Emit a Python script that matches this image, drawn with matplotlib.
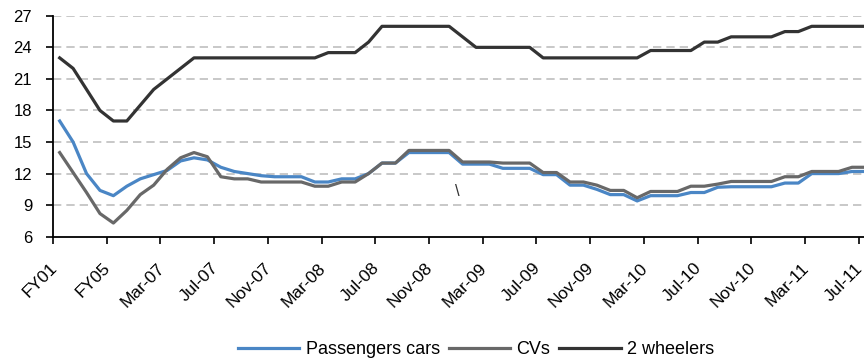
import numpy as np
import matplotlib
matplotlib.use("Agg")
import matplotlib.pyplot as plt

plt.rcParams['font.family'] = ['Liberation Sans', 'DejaVu Sans']

# labels shown on every 4th monthly category
tick_labels = ['FY01', 'FY05', 'Mar-07', 'Jul-07', 'Nov-07', 'Mar-08', 'Jul-08', 'Nov-08',
               'Mar-09', 'Jul-09', 'Nov-09', 'Mar-10', 'Jul-10', 'Nov-10', 'Mar-11', 'Jul-11']

passenger_cars = [17.0, 15.0, 12.0, 10.4, 9.9, 10.8, 11.5, 11.9, 12.3, 13.2,
                  13.5, 13.3, 12.6, 12.2, 12.0, 11.8, 11.7, 11.7, 11.7, 11.2,
                  11.2, 11.5, 11.5, 12.0, 13.0, 13.0, 14.0, 14.0, 14.0, 14.0,
                  12.9, 12.9, 12.9, 12.5, 12.5, 12.5, 11.9, 11.9, 10.9, 10.9,
                  10.5, 10.0, 10.0, 9.4, 9.9, 9.9, 9.9, 10.2, 10.2, 10.7,
                  10.75, 10.75, 10.75, 10.75, 11.1, 11.1, 12.0, 12.0, 12.0, 12.2,
                  12.2]

cvs = [14.0, 12.1, 10.2, 8.2, 7.3, 8.5, 10.0, 10.9, 12.4, 13.5,
       14.0, 13.6, 11.7, 11.5, 11.5, 11.2, 11.2, 11.2, 11.2, 10.8,
       10.8, 11.2, 11.2, 12.0, 13.0, 13.0, 14.2, 14.2, 14.2, 14.2,
       13.1, 13.1, 13.1, 13.0, 13.0, 13.0, 12.1, 12.1, 11.2, 11.2,
       10.9, 10.4, 10.4, 9.7, 10.3, 10.3, 10.3, 10.8, 10.8, 11.0,
       11.25, 11.25, 11.25, 11.25, 11.7, 11.7, 12.2, 12.2, 12.2, 12.6,
       12.6]

two_wheelers = [23, 22, 20, 18, 17, 17, 18.5, 20, 21, 22,
                23, 23, 23, 23, 23, 23, 23, 23, 23, 23,
                23.5, 23.5, 23.5, 24.5, 26, 26, 26, 26, 26, 26,
                25, 24, 24, 24, 24, 24, 23, 23, 23, 23,
                23, 23, 23, 23, 23.7, 23.7, 23.7, 23.7, 24.5, 24.5,
                25, 25, 25, 25, 25.5, 25.5, 26, 26, 26, 26,
                26]

x = np.arange(len(passenger_cars))

fig = plt.figure(figsize=(8.64, 3.6), dpi=100)
ax = fig.add_axes([0.0613, 0.3425, 0.9404, 0.6136])

lw = 2.3
ax.plot(x, passenger_cars, color='#4a86c5', lw=lw, solid_joinstyle='round', label='Passengers cars')
ax.plot(x, cvs, color='#686868', lw=lw, solid_joinstyle='round', label='CVs')
ax.plot(x, two_wheelers, color='#333333', lw=lw, solid_joinstyle='round', label='2 wheelers')

# stray mark in the original chart
ax.text(29.6, 10.25, '\\', fontsize=12, color='#333333', ha='center', va='center')

ax.set_xlim(-0.5, 60)
ax.set_ylim(6, 27)
ax.set_yticks(np.arange(6, 28, 3))
for v in np.arange(9, 28, 3):
    ax.axhline(v, color='#bfbfbf', lw=1.2, ls=(0, (5, 3)), zorder=0)

# tick marks between categories, labels on categories
ax.set_xticks(np.arange(-0.5, 60, 4))
ax.set_xticklabels([])
ax.tick_params(axis='x', which='major', length=5, width=1.2, direction='out')
ax.set_xticks(np.arange(0, 61, 4), minor=True)
ax.set_xticklabels(tick_labels, minor=True, rotation=45, ha='right', va='top', fontsize=12.5)
ax.tick_params(axis='x', which='minor', length=0, pad=17)
ax.tick_params(axis='y', length=5, width=1.2, labelsize=12, pad=10)

for s in ['top', 'right']:
    ax.spines[s].set_visible(False)
for s in ['left', 'bottom']:
    ax.spines[s].set_linewidth(1.3)
    ax.spines[s].set_color('black')

fig.legend(loc='center', bbox_to_anchor=(0.551, 0.028), ncol=3, frameon=False,
           fontsize=13, handlelength=3.4, columnspacing=0.5, handletextpad=0.35)

fig.savefig('out.png', dpi=100)
